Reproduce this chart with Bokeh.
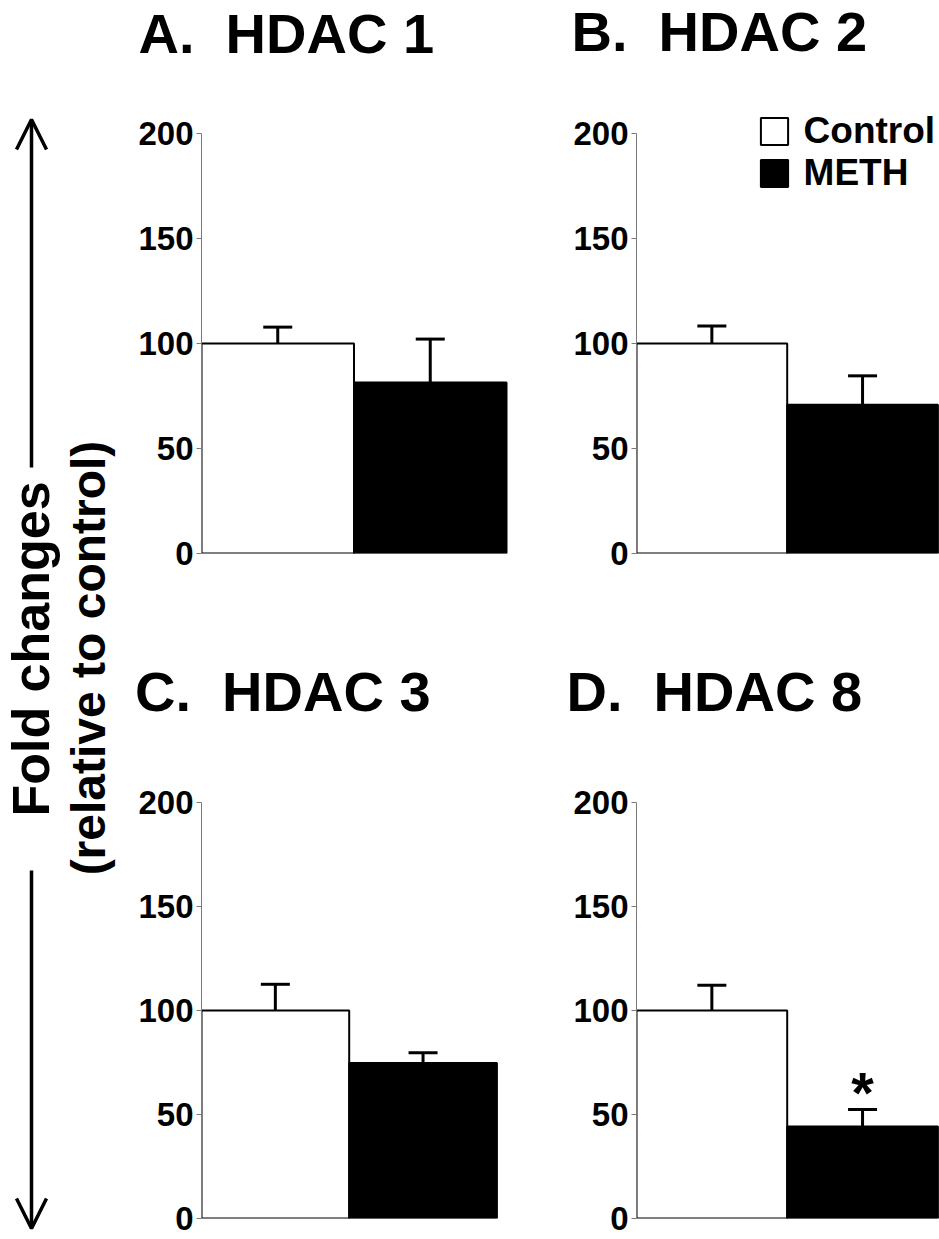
import math
from bokeh.plotting import figure
from bokeh.layouts import row, column
from bokeh.models import (Range1d, FixedTicker, Whisker, TeeHead, ColumnDataSource,
                          Label, Legend, LegendItem, Arrow, OpenHead)
from bokeh.core.properties import value
from bokeh.embed import file_html
from bokeh.resources import INLINE

# ---------------- data ----------------
panel_letters = ["A.", "B.", "C.", "D."]
genes = ["HDAC 1", "HDAC 2", "HDAC 3", "HDAC 8"]
groups = ["Control", "METH"]
control_mean = [100, 100, 100, 100]
control_err = [7.8, 8.3, 12.6, 12.1]
meth_mean = [81.4, 70.8, 74.7, 44.2]
meth_err = [20.7, 13.8, 5.0, 8.2]
significant = [False, False, False, True]
y_ticks = [0, 50, 100, 150, 200]
y_axis_label = ["Fold changes", "(relative to control)"]

FONT = "Liberation Sans"
LEFT_BORDER = 73


def make_panel(i, width, height, border_bottom, bar_px, px_per_unit, legend=None):
    frame_w = width - LEFT_BORDER
    frame_h = height - border_bottom
    p = figure(width=width, height=height, output_backend="svg", toolbar_location=None,
               x_range=Range1d(0, frame_w / bar_px),
               y_range=Range1d(0, frame_h / px_per_unit),
               min_border_left=LEFT_BORDER, min_border_right=0,
               min_border_top=0, min_border_bottom=border_bottom,
               x_axis_location=None, tools="")
    p.outline_line_color = None
    p.xgrid.visible = False
    p.ygrid.visible = False
    p.background_fill_color = "white"

    ax = p.yaxis[0]
    ax.bounds = (0, 200)
    ax.ticker = FixedTicker(ticks=y_ticks)
    ax.minor_tick_line_color = None
    ax.major_tick_in = 0
    ax.major_tick_out = 5
    ax.axis_line_color = "#7a7a7a"
    ax.major_tick_line_color = "#7a7a7a"
    ax.axis_line_width = 1
    ax.major_label_text_font = FONT
    ax.major_label_text_font_style = "bold"
    ax.major_label_text_font_size = "33px"
    ax.major_label_text_color = "black"
    ax.major_label_standoff = 3

    src_c = ColumnDataSource(dict(x=[0.5], top=[control_mean[i]],
                                  up=[control_mean[i] + control_err[i]]))
    src_m = ColumnDataSource(dict(x=[1.5], top=[meth_mean[i]],
                                  up=[meth_mean[i] + meth_err[i]]))
    rc = p.vbar(x="x", top="top", bottom=0, width=1, source=src_c,
                fill_color="white", line_color="black", line_width=2)
    rm = p.vbar(x="x", top="top", bottom=0, width=1, source=src_m,
                fill_color="black", line_color="black", line_width=2)
    for src in (src_c, src_m):
        p.add_layout(Whisker(source=src, base="x", lower="top", upper="up",
                             dimension="height", line_width=3, line_color="black",
                             upper_head=TeeHead(size=29, line_width=3, line_color="black"),
                             lower_head=None))

    if significant[i]:
        p.add_layout(Label(x=1.5, y=meth_mean[i] + meth_err[i], text="*",
                           y_offset=17, text_font=FONT, text_font_style="bold",
                           text_font_size="58px", text_align="center",
                           text_baseline="alphabetic", text_color="black"))

    if legend is not None:
        leg = Legend(items=[LegendItem(label=groups[0], renderers=[rc]),
                            LegendItem(label=groups[1], renderers=[rm])],
                     location=legend, orientation="vertical",
                     glyph_width=34, glyph_height=34, label_standoff=13,
                     spacing=0, padding=0, margin=0,
                     border_line_alpha=0, background_fill_alpha=0,
                     label_text_font=FONT, label_text_font_style="bold",
                     label_text_font_size="37px", label_text_color="black")
        p.add_layout(leg)
    return p


def title_strip(height, y_top, xs, ys, idx):
    t = figure(width=811, height=height, x_range=Range1d(128, 939),
               y_range=Range1d(y_top + height, y_top),
               output_backend="svg", toolbar_location=None,
               min_border_left=0, min_border_right=0, min_border_top=0, min_border_bottom=0,
               x_axis_location=None, y_axis_location=None, tools="")
    t.outline_line_color = None
    t.xgrid.visible = False
    t.ygrid.visible = False
    for x, y, k in zip(xs, ys, idx):
        t.text(x=[x], y=[y], text=[f"{panel_letters[k]} \u00a0{genes[k]}"],
               text_align="left", text_baseline="alphabetic", text_font=value(FONT),
               text_font_style="bold", text_font_size="56px", text_color="black")
    return t


# title strips (data coords == page pixels)
t1 = title_strip(75, 0, [138, 571], [33, 31], [0, 1])
t2 = title_strip(90, 640, [134.5, 566], [691, 691], [2, 3])

# panels: top row frame 75..553 (200 -> 133), bottom row frame 730..1218 (200 -> 802)
pA = make_panel(0, 435, 565, 87, 152.5, 2.1)
pB = make_panel(1, 376, 565, 87, 150.7, 2.1, legend=(120.6, 359))
pC = make_panel(2, 435, 509, 21, 147.7, 2.08)
pD = make_panel(3, 376, 509, 21, 150.7, 2.08)

# left label column (data coords == page pixels)
lf = figure(width=128, height=1239, x_range=Range1d(0, 128), y_range=Range1d(1239, 0),
            output_backend="svg", toolbar_location=None,
            min_border_left=0, min_border_right=0, min_border_top=0, min_border_bottom=0,
            x_axis_location=None, y_axis_location=None, tools="")
lf.outline_line_color = None
lf.xgrid.visible = False
lf.ygrid.visible = False
lf.text(x=[30], y=[648.5], text=[y_axis_label[0]], angle=math.pi / 2,
        text_align="center", text_baseline="alphabetic", text_font=value(FONT),
        text_font_style="bold", text_font_size="52px", text_color="black")
lf.text(x=[88], y=[657.5], text=[y_axis_label[1]], angle=math.pi / 2,
        text_align="center", text_baseline="alphabetic", text_font=value(FONT),
        text_font_style="bold", text_font_size="48px", text_color="black")
lf.add_layout(Arrow(start=None, end=OpenHead(size=30, line_width=3.5, line_color="black"),
                    x_start=31, y_start=467, x_end=31, y_end=119,
                    line_width=3.5, line_color="black"))
lf.add_layout(Arrow(start=None, end=OpenHead(size=30, line_width=3.5, line_color="black"),
                    x_start=31, y_start=870, x_end=31, y_end=1228,
                    line_width=3.5, line_color="black"))

layout = row(lf, column(t1, row(pA, pB), t2, row(pC, pD)))
open("out.html", "w").write(file_html(layout, INLINE))
